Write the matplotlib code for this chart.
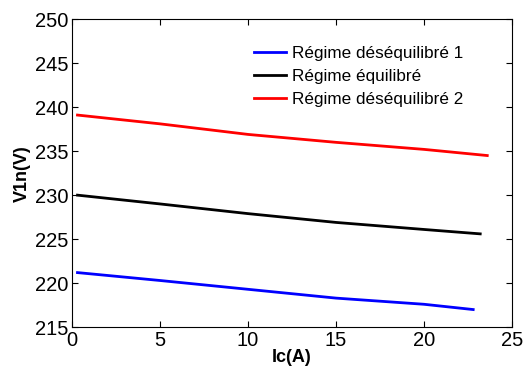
import matplotlib
matplotlib.use('Agg')
import matplotlib.pyplot as plt

plt.rcParams['font.family'] = ['Liberation Sans', 'DejaVu Sans']

# courant de charge (A)
ic_1 = [0.3, 5, 10, 15, 20, 22.8]
ic_eq = [0.3, 5, 10, 15, 20, 23.2]
ic_2 = [0.3, 5, 10, 15, 20, 23.6]

# tension V1n (V)
v_1 = [221.2, 220.3, 219.3, 218.3, 217.6, 217.0]
v_eq = [230.0, 229.0, 227.9, 226.9, 226.1, 225.6]
v_2 = [239.1, 238.1, 236.9, 236.0, 235.2, 234.5]

fig = plt.figure(figsize=(5.31, 3.68), dpi=100)
ax = fig.add_axes([0.136, 0.111, 0.828, 0.837])

ax.plot(ic_1, v_1, color='#0000ff', lw=2, label='Régime déséquilibré 1')
ax.plot(ic_eq, v_eq, color='black', lw=2, label='Régime équilibré')
ax.plot(ic_2, v_2, color='#ff0000', lw=2, label='Régime déséquilibré 2')

ax.set_xlim(0, 25)
ax.set_ylim(215, 250)
ax.set_xticks([0, 5, 10, 15, 20, 25])
ax.set_yticks([215, 220, 225, 230, 235, 240, 245, 250])
ax.tick_params(direction='in', top=True, right=True, length=4, labelsize=14.5, pad=3)
ax.set_xlabel('Ic(A)', fontsize=13, fontweight='bold', labelpad=-1)
ax.set_ylabel('V1n(V)', fontsize=13, fontweight='bold', labelpad=3)

ax.legend(loc='upper right', bbox_to_anchor=(0.925, 0.962), frameon=False,
          fontsize=12.3, handlelength=1.9, handletextpad=0.35, labelspacing=0.45)

fig.savefig('out.png', dpi=100)
